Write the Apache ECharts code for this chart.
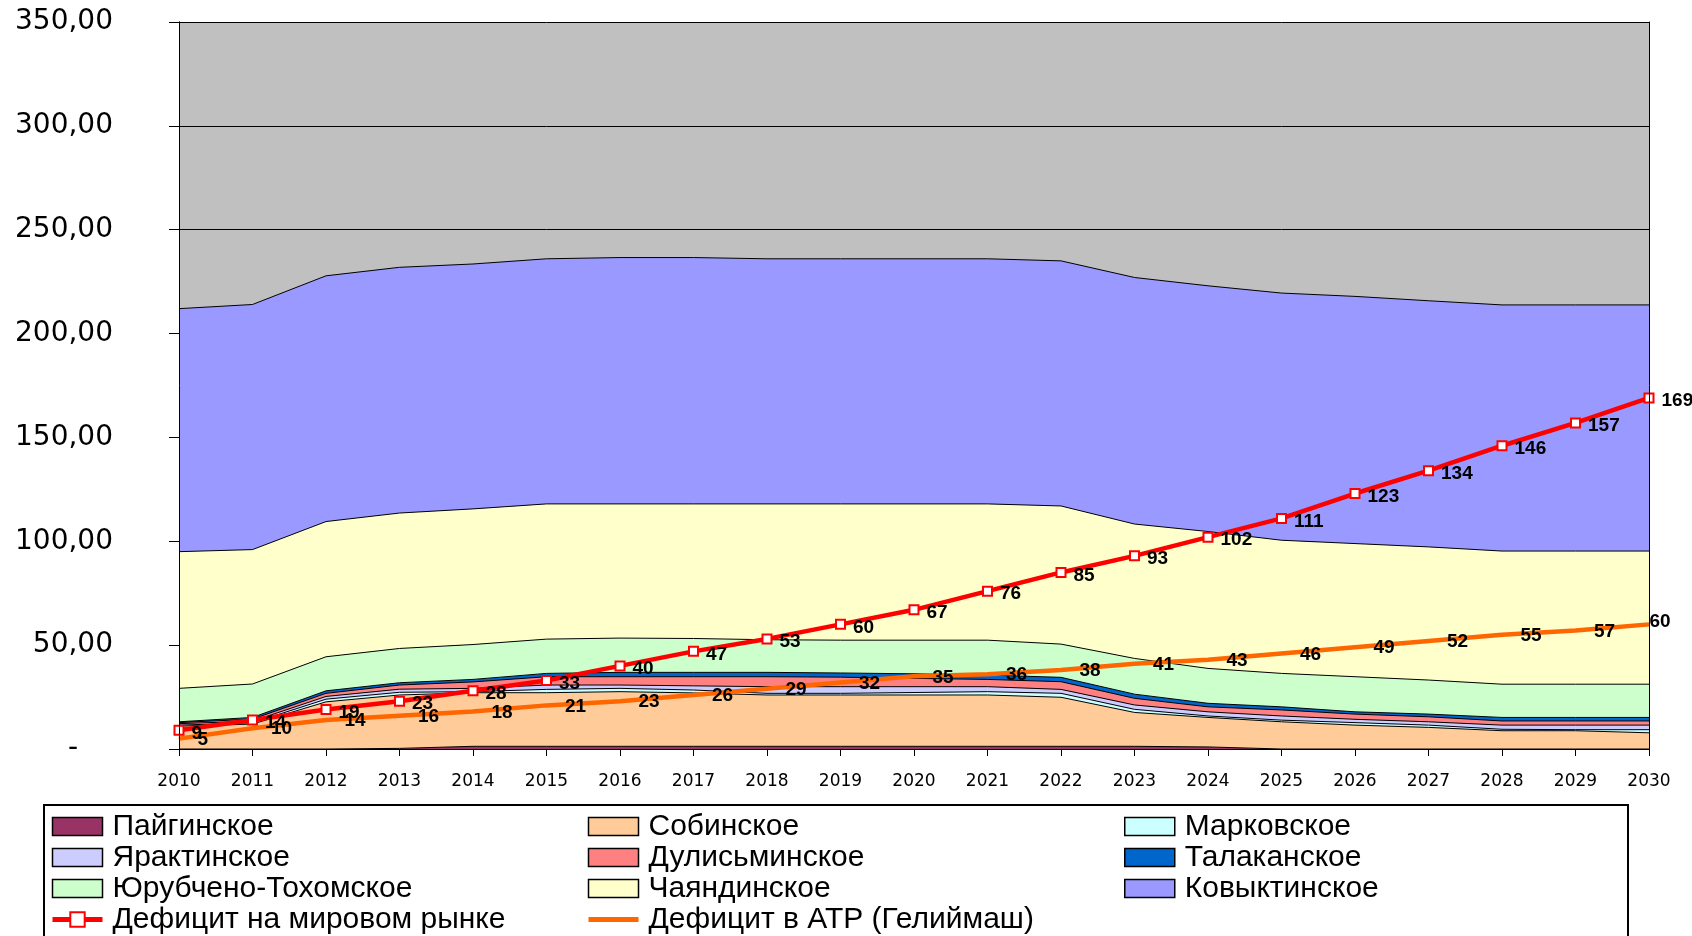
<!DOCTYPE html>
<html>
<head>
<meta charset="utf-8">
<script src="https://cdn.jsdelivr.net/npm/echarts@6/dist/echarts.min.js"></script>
<style>
  html, body { margin: 0; padding: 0; background: #fff; }
  #chart { width: 1692px; height: 936px; }
</style>
</head>
<body>
<div id="chart"></div>
<script>
// Годы прогноза
const years = ['2010','2011','2012','2013','2014','2015','2016','2017','2018','2019','2020',
               '2021','2022','2023','2024','2025','2026','2027','2028','2029','2030'];

// Добыча гелия по месторождениям (накопительные площади, снизу вверх)
const paigin     = [0, 0, 0, 0.3, 1.3, 1.3, 1.3, 1.3, 1.3, 1.3, 1.3, 1.3, 1.3, 1.3, 1.0, 0, 0, 0, 0, 0, 0];
const sobin      = [11.0, 12.0, 22.7, 25.7, 25.8, 25.8, 26.3, 25.7, 24.7, 24.7, 24.7, 24.7, 23.6, 16.3, 14.2, 13.1, 11.5, 10.4, 8.8, 8.8, 7.8];
const markov     = [0.5, 0.6, 1.3, 1.3, 0.5, 1.6, 1.6, 1.4, 0.8, 0.8, 1.2, 1.6, 1.9, 1.5, 0.7, 0.8, 1.2, 1.1, 0.7, 0.5, 1.5];
const yarakta    = [0.7, 0.8, 1.3, 1.5, 1.6, 2.1, 1.6, 2.0, 3.2, 3.2, 2.8, 2.4, 1.9, 2.1, 2.0, 2.0, 1.6, 1.6, 2.0, 2.2, 2.2];
const dulisma    = [0.5, 1.0, 1.5, 2.0, 3.1, 4.0, 4.0, 4.4, 4.8, 4.6, 4.0, 3.5, 3.7, 3.2, 2.4, 2.9, 2.5, 2.4, 2.0, 2.0, 2.0];
const talakan    = [0.4, 0.8, 1.2, 1.1, 1.2, 1.6, 2.1, 2.1, 2.1, 2.0, 2.2, 2.1, 2.1, 2.0, 1.7, 1.5, 1.1, 1.3, 1.7, 1.7, 1.7];
const yurubcheno = [16.1, 16.1, 16.4, 16.5, 16.8, 16.5, 16.5, 16.3, 15.7, 15.8, 16.2, 16.8, 16.0, 17.2, 16.8, 16.1, 16.9, 16.4, 16.0, 16.0, 16.0];
const chayanda   = [65.8, 64.7, 65.1, 65.2, 65.3, 65.1, 64.6, 64.8, 65.4, 65.6, 65.6, 65.6, 66.5, 64.7, 65.9, 64.1, 64.1, 64.1, 64.1, 64.1, 64.1];
const kovykta    = [117.0, 118.0, 118.3, 118.3, 117.9, 118.0, 118.6, 118.6, 118.0, 118.0, 118.0, 118.0, 118.0, 118.7, 118.3, 119.0, 119.0, 118.5, 118.5, 118.5, 118.5];

// Дефицит гелия
const worldDeficit = [9, 14, 19, 23, 28, 33, 40, 47, 53, 60, 67, 76, 85, 93, 102, 111, 123, 134, 146, 157, 169];
const apacDeficit  = [5, 10, 14, 16, 18, 21, 23, 26, 29, 32, 35, 36, 38, 41, 43, 46, 49, 52, 55, 57, 60];

// Шкала оси значений
const yMin = 0, yMax = 350, yStep = 50;

const layers = [
  { name: 'Пайгинское',          data: paigin },
  { name: 'Собинское',           data: sobin },
  { name: 'Марковское',          data: markov },
  { name: 'Ярактинское',         data: yarakta },
  { name: 'Дулисьминское',       data: dulisma },
  { name: 'Талаканское',         data: talakan },
  { name: 'Юрубчено-Тохомское',  data: yurubcheno },
  { name: 'Чаяндинское',         data: chayanda },
  { name: 'Ковыктинское',        data: kovykta }
];
const layerColors = {
  'Пайгинское': '#993366',
  'Собинское': '#FFCC99',
  'Марковское': '#CCFFFF',
  'Ярактинское': '#CCCCFF',
  'Дулисьминское': '#FF8080',
  'Талаканское': '#0066CC',
  'Юрубчено-Тохомское': '#CCFFCC',
  'Чаяндинское': '#FFFFCC',
  'Ковыктинское': '#9999FF'
};
const WORLD = 'Дефицит на мировом рынке';
const APAC = 'Дефицит в АТР (Гелиймаш)';

const areaSeries = layers.map(l => ({
  type: 'line',
  name: l.name,
  data: l.data,
  stack: 'fields',
  symbol: 'none',
  smooth: false,
  z: 2,
  lineStyle: { color: '#000', width: 1 },
  itemStyle: { color: layerColors[l.name] },
  areaStyle: { color: layerColors[l.name], opacity: 1 },
  emphasis: { disabled: true }
}));

const valueLabel = {
  show: true,
  position: 'right',
  color: '#000',
  fontFamily: 'Liberation Sans, Arial, sans-serif',
  fontWeight: 'bold',
  fontSize: 19
};

const lineSeries = [
  {
    type: 'line',
    name: WORLD,
    data: worldDeficit,
    z: 5,
    symbol: 'emptyRect',
    symbolSize: 9,
    showAllSymbol: true,
    lineStyle: { color: '#FF0000', width: 4.5 },
    itemStyle: { color: '#FF0000' },
    label: Object.assign({}, valueLabel, { distance: 7, offset: [0, 3] }),
    emphasis: { disabled: true }
  },
  {
    type: 'line',
    name: APAC,
    data: apacDeficit.map((v, i) => i === apacDeficit.length - 1
      ? { value: v, label: { position: 'top', distance: 2, offset: [11, 9] } }
      : v),
    z: 4,
    symbol: 'circle',
    symbolSize: 1,
    showAllSymbol: true,
    lineStyle: { color: '#FF6600', width: 4.5 },
    itemStyle: { color: '#FF6600' },
    label: Object.assign({}, valueLabel, { distance: 18, offset: [0, 1] }),
    emphasis: { disabled: true }
  }
];

const legendBase = {
  orient: 'vertical',
  top: 811,
  padding: 0,
  itemWidth: 50,
  itemHeight: 18,
  itemGap: 0,
  selectedMode: false,
  textStyle: {
    color: '#000',
    fontFamily: 'Liberation Sans, Arial, sans-serif',
    fontSize: 30,
    lineHeight: 31,
    padding: [0, 0, 0, 5]
  }
};
const rectItem = name => ({ name: name, icon: 'rect', itemStyle: { borderColor: '#000', borderWidth: 1.5 } });

const option = {
  animation: false,
  backgroundColor: '#fff',
  grid: {
    left: 179, right: 43, top: 22, bottom: 187,
    show: true, backgroundColor: '#C0C0C0', borderColor: '#000', borderWidth: 0
  },
  xAxis: {
    type: 'category',
    data: years,
    boundaryGap: false,
    z: 10,
    axisLine: { show: true, lineStyle: { color: '#000', width: 1 } },
    axisTick: { show: true, length: 7, alignWithLabel: true, lineStyle: { color: '#000' } },
    axisLabel: { color: '#000', fontFamily: 'DejaVu Sans, Verdana, sans-serif', fontSize: 17, margin: 24 },
    splitLine: { show: false }
  },
  yAxis: [
    {
      type: 'value', min: yMin, max: yMax, interval: yStep,
      axisLine: { show: true, lineStyle: { color: '#000' } },
      axisTick: { show: true, length: 10, lineStyle: { color: '#000' } },
      splitLine: { show: true, lineStyle: { color: '#000', width: 1 } },
      axisLabel: {
        color: '#000', fontFamily: 'DejaVu Sans, Verdana, sans-serif', fontSize: 28, margin: 66,
        formatter: v => v === 0 ? '{d|-}' : v.toFixed(2).replace('.', ','),
        rich: { d: { fontFamily: 'DejaVu Sans, Verdana, sans-serif', fontSize: 28, color: '#000', padding: [0, 35, 0, 0] } }
      }
    },
    {
      type: 'value', min: yMin, max: yMax, position: 'right', z: 10,
      axisLine: { show: true, onZero: false, lineStyle: { color: '#000' } },
      axisTick: { show: false }, axisLabel: { show: false }, splitLine: { show: false }
    },
    {
      type: 'value', min: yMin, max: yMax, position: 'left', z: 10,
      axisLine: { show: true, onZero: false, lineStyle: { color: '#000' } },
      axisTick: { show: false }, axisLabel: { show: false }, splitLine: { show: false }
    }
  ],
  legend: [
    Object.assign({}, legendBase, {
      left: 50,
      data: [rectItem('Пайгинское'), rectItem('Ярактинское'), rectItem('Юрубчено-Тохомское'),
             { name: WORLD, itemStyle: { color: '#FF0000', borderWidth: 0 }, lineStyle: { width: 5, color: '#FF0000' } }]
    }),
    Object.assign({}, legendBase, {
      left: 586,
      data: [rectItem('Собинское'), rectItem('Дулисьминское'), rectItem('Чаяндинское'),
             { name: APAC, itemStyle: { color: 'rgba(0,0,0,0)', borderWidth: 0 }, lineStyle: { width: 5, color: '#FF6600' } }]
    }),
    Object.assign({}, legendBase, {
      left: 1124,
      data: [rectItem('Марковское'), rectItem('Талаканское'), rectItem('Ковыктинское')]
    })
  ],
  graphic: [
    {
      type: 'rect', z: -10, silent: true,
      shape: { x: 44, y: 805, width: 1584, height: 200 },
      style: { fill: '#fff', stroke: '#000', lineWidth: 2 }
    }
  ],
  series: areaSeries.concat(lineSeries)
};

const chart = echarts.init(document.getElementById('chart'), null, { renderer: 'canvas' });
chart.setOption(option);
</script>
</body>
</html>
